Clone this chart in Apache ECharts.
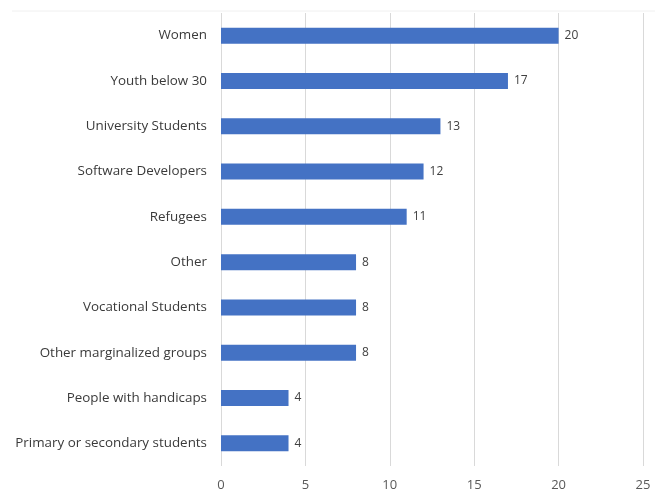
<!DOCTYPE html>
<html>
<head>
<meta charset="utf-8">
<script src="https://cdn.jsdelivr.net/npm/echarts@6/dist/echarts.min.js"></script>
<style>
  html, body { margin: 0; padding: 0; background: #ffffff; }
  #chart { width: 655px; height: 495px; }
</style>
</head>
<body>
<div id="chart"></div>
<script>
// Target groups, listed bottom-to-top as the category axis draws them
const categories = [
  'Primary or secondary students',
  'People with handicaps',
  'Other marginalized groups',
  'Vocational Students',
  'Other',
  'Refugees',
  'Software Developers',
  'University Students',
  'Youth below 30',
  'Women'
];
const counts = [4, 4, 8, 8, 8, 11, 12, 13, 17, 20];
const xTicks = [0, 5, 10, 15, 20, 25];

const chart = echarts.init(document.getElementById('chart'), null, { renderer: 'canvas' });
const fontFamily = '"Open Sans", "Noto Sans", sans-serif';

chart.setOption({
  animation: false,
  backgroundColor: '#ffffff',
  grid: { left: 221, right: 12, top: 13, bottom: 29, containLabel: false },
  graphic: [{
    type: 'line',
    shape: { x1: 12, y1: 11, x2: 655, y2: 11 },
    style: { stroke: '#f0f0f0', lineWidth: 1 }
  }],
  xAxis: {
    type: 'value',
    min: xTicks[0],
    max: xTicks[xTicks.length - 1],
    interval: 5,
    axisLine: { show: false },
    axisTick: { show: false },
    splitLine: { show: true, lineStyle: { color: '#d9d9d9', width: 1 } },
    axisLabel: { color: '#595959', fontSize: 13, fontFamily: fontFamily, margin: 13 }
  },
  yAxis: {
    type: 'category',
    data: categories,
    axisLine: { show: false },
    axisTick: { show: false },
    axisLabel: { color: '#3a3a3a', fontSize: 13.4, fontFamily: fontFamily, margin: 14, padding: [3, 0, 0, 0] }
  },
  series: [{
    type: 'bar',
    data: counts,
    barWidth: 16,
    itemStyle: { color: '#4472C4' },
    label: {
      show: true,
      position: 'right',
      distance: 6,
      color: '#404040',
      fontSize: 12,
      fontFamily: fontFamily
    }
  }]
});
</script>
</body>
</html>
